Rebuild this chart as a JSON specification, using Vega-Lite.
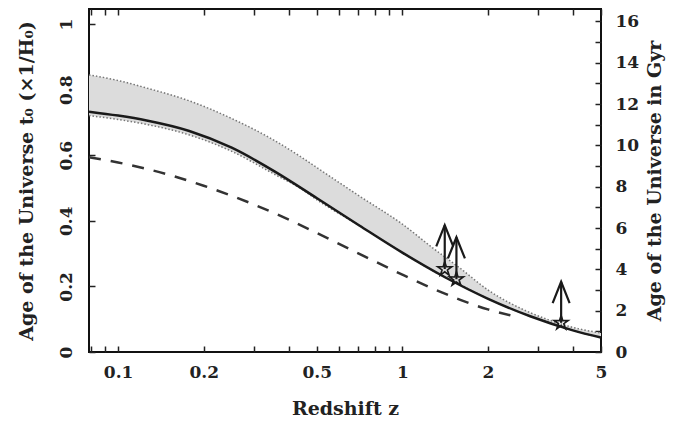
{
  "$schema": "https://vega.github.io/schema/vega-lite/v6.json",
  "autosize": {"type": "none"},
  "width": 512,
  "height": 343,
  "padding": {"left": 89, "top": 9, "right": 78, "bottom": 69},
  "background": "white",
  "config": {
    "view": {"stroke": "#111", "strokeWidth": 2},
    "font": "DejaVu Serif",
    "axis": {
      "labelFont": "DejaVu Serif",
      "labelFontSize": 17,
      "labelFontWeight": "bold",
      "labelColor": "#222",
      "titleFont": "DejaVu Serif",
      "titleFontSize": 19,
      "titleFontWeight": "bold",
      "titleColor": "#222",
      "grid": false,
      "domain": false,
      "tickColor": "#222",
      "tickWidth": 1.5,
      "tickSize": -6
    }
  },
  "datasets": {
    "lines": [
      {"z": 0.079, "v": 0.733, "series": "solid"},
      {"z": 0.1, "v": 0.721, "series": "solid"},
      {"z": 0.126, "v": 0.706, "series": "solid"},
      {"z": 0.178, "v": 0.674, "series": "solid"},
      {"z": 0.251, "v": 0.623, "series": "solid"},
      {"z": 0.355, "v": 0.551, "series": "solid"},
      {"z": 0.501, "v": 0.469, "series": "solid"},
      {"z": 0.708, "v": 0.385, "series": "solid"},
      {"z": 1.0, "v": 0.303, "series": "solid"},
      {"z": 1.413, "v": 0.228, "series": "solid"},
      {"z": 1.995, "v": 0.163, "series": "solid"},
      {"z": 2.818, "v": 0.109, "series": "solid"},
      {"z": 3.981, "v": 0.066, "series": "solid"},
      {"z": 5.0, "v": 0.044, "series": "solid"},
      {"z": 0.079, "v": 0.594, "series": "dashed"},
      {"z": 0.1, "v": 0.578, "series": "dashed"},
      {"z": 0.15, "v": 0.541, "series": "dashed"},
      {"z": 0.2, "v": 0.507, "series": "dashed"},
      {"z": 0.3, "v": 0.45, "series": "dashed"},
      {"z": 0.4, "v": 0.403, "series": "dashed"},
      {"z": 0.5, "v": 0.363, "series": "dashed"},
      {"z": 0.7, "v": 0.301, "series": "dashed"},
      {"z": 1.0, "v": 0.236, "series": "dashed"},
      {"z": 1.3, "v": 0.191, "series": "dashed"},
      {"z": 1.6, "v": 0.159, "series": "dashed"},
      {"z": 2.0, "v": 0.13, "series": "dashed"},
      {"z": 2.4, "v": 0.112, "series": "dashed"}
    ],
    "band": [
      {"z": 0.079, "lo": 0.721, "hi": 0.845},
      {"z": 0.1, "lo": 0.709, "hi": 0.828},
      {"z": 0.126, "lo": 0.694, "hi": 0.805},
      {"z": 0.178, "lo": 0.662, "hi": 0.766},
      {"z": 0.251, "lo": 0.612, "hi": 0.712},
      {"z": 0.355, "lo": 0.542, "hi": 0.645},
      {"z": 0.44, "lo": 0.498, "hi": 0.595},
      {"z": 0.501, "lo": 0.464, "hi": 0.562},
      {"z": 0.708, "lo": 0.385, "hi": 0.475},
      {"z": 1.0, "lo": 0.303, "hi": 0.39},
      {"z": 1.29, "lo": 0.246, "hi": 0.315},
      {"z": 1.6, "lo": 0.205, "hi": 0.255},
      {"z": 1.995, "lo": 0.163, "hi": 0.19},
      {"z": 2.818, "lo": 0.109, "hi": 0.12},
      {"z": 3.4, "lo": 0.086, "hi": 0.093},
      {"z": 3.981, "lo": 0.066, "hi": 0.075},
      {"z": 5.0, "lo": 0.044, "hi": 0.058}
    ],
    "limits": [
      {"z": 1.41, "v": 0.253, "top": 0.387},
      {"z": 1.55, "v": 0.222, "top": 0.35},
      {"z": 3.62, "v": 0.089, "top": 0.214}
    ],
    "gyrAxis": [
      {"z": 0.1, "gyr": 0},
      {"z": 5, "gyr": 16}
    ]
  },
  "layer": [
    {
      "encoding": {
        "x": {
          "field": "z",
          "type": "quantitative",
          "scale": {"type": "log", "domain": [0.079, 5], "nice": false},
          "axis": {
            "orient": "bottom",
            "title": "Redshift z",
            "format": "~g",
            "values": [0.08, 0.09, 0.1, 0.2, 0.3, 0.4, 0.5, 0.6, 0.7, 0.8, 0.9, 1, 2, 3, 4, 5],
            "labelExpr": "indexof([0.1, 0.2, 0.5, 1, 2, 5], datum.value) >= 0 ? datum.label : ''",
            "labelPadding": 18,
            "labelFlush": false,
            "titlePadding": 19
          }
        }
      },
      "layer": [
        {
          "data": {"name": "band"},
          "mark": {"type": "area", "color": "#dcdcdc", "opacity": 1, "interpolate": "monotone"},
          "encoding": {
            "y": {"field": "hi", "type": "quantitative"},
            "y2": {"field": "lo"}
          }
        },
        {
          "data": {"name": "band"},
          "mark": {"type": "line", "color": "#777", "strokeWidth": 1.5, "strokeDash": [1.5, 2], "interpolate": "monotone"},
          "encoding": {"y": {"field": "hi", "type": "quantitative"}}
        },
        {
          "data": {"name": "band"},
          "mark": {"type": "line", "color": "#777", "strokeWidth": 1.5, "strokeDash": [1.5, 2], "interpolate": "monotone"},
          "encoding": {"y": {"field": "lo", "type": "quantitative"}}
        },
        {
          "data": {"name": "lines"},
          "transform": [{"filter": "datum.series == 'dashed'"}],
          "mark": {"type": "line", "color": "#333", "strokeWidth": 2.5, "strokeDash": [12, 10], "interpolate": "monotone"},
          "encoding": {"y": {"field": "v", "type": "quantitative"}}
        },
        {
          "data": {"name": "lines"},
          "transform": [{"filter": "datum.series == 'solid'"}],
          "mark": {"type": "line", "color": "#1a1a1a", "strokeWidth": 2.5, "interpolate": "monotone"},
          "encoding": {
            "y": {
              "field": "v",
              "type": "quantitative",
              "scale": {"domain": [0, 1.046], "nice": false, "zero": false},
              "axis": {
                "orient": "left",
                "title": "Age of the Universe t₀ (×1/H₀)",
                "format": "~g",
                "values": [0, 0.1, 0.2, 0.3, 0.4, 0.5, 0.6, 0.7, 0.8, 0.9, 1],
                "labelExpr": "round(datum.value * 10) % 2 == 0 ? datum.label : ''",
                "labelAngle": -90,
                "labelAlign": "center",
                "labelBaseline": "bottom",
                "labelPadding": 20,
                "titlePadding": 21
              }
            }
          }
        },
        {
          "data": {"name": "limits"},
          "mark": {"type": "rule", "color": "#1a1a1a", "strokeWidth": 2.2},
          "encoding": {
            "y": {"field": "v", "type": "quantitative"},
            "y2": {"field": "top"}
          }
        },
        {
          "data": {"name": "limits"},
          "mark": {
            "type": "point",
            "shape": "M-0.8,2L0,0L0.8,2",
            "size": 450,
            "filled": false,
            "color": "#1a1a1a",
            "strokeWidth": 2.2,
            "opacity": 1
          },
          "encoding": {"y": {"field": "top", "type": "quantitative"}}
        },
        {
          "data": {"name": "limits"},
          "mark": {
            "type": "point",
            "shape": "M0,-1L0.22,-0.3L0.95,-0.31L0.36,0.12L0.59,0.81L0,0.38L-0.59,0.81L-0.36,0.12L-0.95,-0.31L-0.22,-0.3Z",
            "size": 220,
            "filled": false,
            "color": "#1a1a1a",
            "strokeWidth": 1.6,
            "opacity": 1
          },
          "encoding": {"y": {"field": "v", "type": "quantitative"}}
        }
      ]
    },
    {
      "data": {"name": "gyrAxis"},
      "mark": {"type": "point", "opacity": 0},
      "encoding": {
        "x": {
          "field": "z",
          "type": "quantitative",
          "scale": {"type": "log", "domain": [0.079, 5], "nice": false},
          "axis": {
            "orient": "top",
            "title": null,
            "labels": false,
            "values": [0.08, 0.09, 0.1, 0.2, 0.3, 0.4, 0.5, 0.6, 0.7, 0.8, 0.9, 1, 2, 3, 4, 5]
          }
        },
        "y": {
          "field": "gyr",
          "type": "quantitative",
          "scale": {"domain": [0, 16.6], "nice": false, "zero": false},
          "axis": {
            "orient": "right",
            "title": "Age of the Universe in Gyr",
            "titleAngle": -90,
            "titleBaseline": "top",
            "format": "~g",
            "values": [0, 1, 2, 3, 4, 5, 6, 7, 8, 9, 10, 11, 12, 13, 14, 15, 16],
            "labelExpr": "datum.value % 2 == 0 ? datum.label : ''",
            "labelPadding": 20,
            "titlePadding": 7
          }
        }
      }
    }
  ],
  "resolve": {"scale": {"x": "independent", "y": "independent"}}
}
